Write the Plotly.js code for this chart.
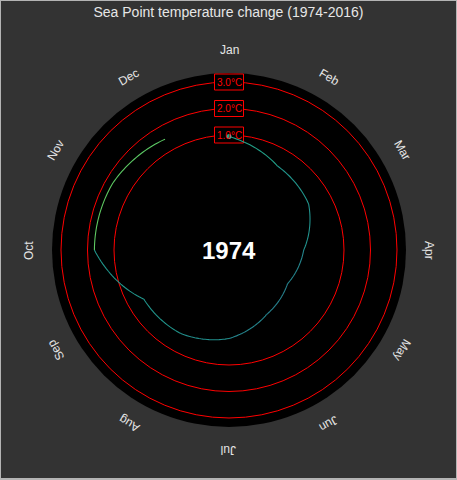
<!DOCTYPE html>
<html>
<head>
<meta charset="utf-8">
<script src="https://cdn.plot.ly/plotly-3.0.1.min.js"></script>
<style>
  html, body { margin: 0; padding: 0; background: #333333; }
  #frame { width: 457px; height: 480px; box-sizing: border-box; border: 1px solid #b4b4b4; border-bottom-width: 2px; background: #333333; }
  #chart { width: 455px; height: 477px; }
</style>
</head>
<body>
<div id="frame"><div id="chart"></div></div>
<script>
// ---- data ----
var year = '1974';
var months = ['Jan','Feb','Mar','Apr','May','Jun','Jul','Aug','Sep','Oct','Nov','Dec'];
var anomaly = [0.94, 0.32, 0.13, -0.52, -0.79, -0.52, 0.00, 0.30, 0.37, 1.74, 1.72, 1.49];
var ringValues = [1, 2, 3];
var ringLabels = ['1.0°C', '2.0°C', '3.0°C'];

// ---- styling / geometry ----
var RMIN = -3.34, RMAX = 3.34;
var W = 455, H = 477;
var M = {l: 51, r: 50, t: 72, b: 51};
var SIDE = W - M.l - M.r; // 354 px polar square
var FONT = 'Liberation Sans, Arial, sans-serif';
var viridis = ['#440154','#482475','#414487','#355f8d','#2a788e','#21918c','#22a884','#44bf70','#7ad151','#bddf26','#fde725'];
function hex2rgb(h){ return [parseInt(h.substr(1,2),16),parseInt(h.substr(3,2),16),parseInt(h.substr(5,2),16)]; }
function viridisAt(t){
  t = Math.max(0, Math.min(1, t));
  var p = t * 10, i = Math.min(9, Math.floor(p)), f = p - i;
  var a = hex2rgb(viridis[i]), b = hex2rgb(viridis[i+1]);
  return 'rgb(' + [0,1,2].map(function(k){ return Math.round(a[k] + (b[k]-a[k])*f); }).join(',') + ')';
}
var cv = [-0.8, 0.95, 1.75], ct = [0.43, 0.56, 0.75];
function colourFor(v){
  var t;
  if (v <= cv[1]) t = ct[0] + (v - cv[0]) / (cv[1] - cv[0]) * (ct[1] - ct[0]);
  else t = ct[1] + (v - cv[1]) / (cv[2] - cv[1]) * (ct[2] - ct[1]);
  return viridisAt(t);
}
// radial value -> pixel radius (same mapping as the radial axis)
function rPx(v){ return SIDE / 2 * (v - RMIN) / (RMAX - RMIN); }

// month index -> angle in degrees on the angular axis
var STEP = 360 / months.length;

// Each month-to-month segment is a straight line in (angle, value) space,
// rendered in polar coordinates as a spiral arc (as coord_polar does).
var traces = [];
var SUB = 24;
for (var i = 0; i < months.length - 1; i++) {
  var th = [], rr = [];
  for (var s = 0; s <= SUB; s++) {
    var f = s / SUB;
    th.push((i + f) * STEP);
    rr.push(anomaly[i] + (anomaly[i+1] - anomaly[i]) * f);
  }
  traces.push({
    type: 'scatterpolar', mode: 'lines', r: rr, theta: th,
    line: {color: colourFor(anomaly[i]), width: 1.1},
    hoverinfo: 'skip', showlegend: false
  });
}
traces.push({
  type: 'scatterpolar', mode: 'markers',
  r: [anomaly[0]], theta: [0],
  marker: {color: colourFor(anomaly[0]), size: 5},
  hoverinfo: 'skip', showlegend: false
});

// background disc, rings and ring-label boxes (beneath the data)
var shapes = [{
  type: 'circle', xref: 'paper', yref: 'paper', layer: 'below',
  x0: 0, x1: 1, y0: 0, y1: 1, fillcolor: '#000000', line: {width: 0}
}];
ringValues.forEach(function(v){
  var q = rPx(v) / SIDE;
  shapes.push({
    type: 'circle', xref: 'paper', yref: 'paper', layer: 'below',
    x0: 0.5 - q, x1: 0.5 + q, y0: 0.5 - q, y1: 0.5 + q,
    line: {color: '#ff0000', width: 1}
  });
});
var BOX_W = 29, BOX_H = 16;
ringValues.forEach(function(v){
  var yc = 0.5 + rPx(v) / SIDE;
  shapes.push({
    type: 'rect', xref: 'paper', yref: 'paper', layer: 'below',
    x0: 0.5 - BOX_W / 2 / SIDE, x1: 0.5 + BOX_W / 2 / SIDE,
    y0: yc - BOX_H / 2 / SIDE, y1: yc + BOX_H / 2 / SIDE,
    fillcolor: '#000000', line: {color: '#ff0000', width: 1}
  });
});

var annotations = [];
ringValues.forEach(function(v, k){
  annotations.push({
    xref: 'paper', yref: 'paper', x: 0.5, y: 0.5 + rPx(v) / SIDE,
    xanchor: 'center', yanchor: 'middle', showarrow: false,
    text: ringLabels[k],
    font: {family: FONT, size: 10, color: '#ff0000'}
  });
});
var LABEL_R = 200;
months.forEach(function(m, k){
  var a = k * STEP * Math.PI / 180;
  var ang = ((k * STEP + 180) % 360) - 180;
  annotations.push({
    xref: 'paper', yref: 'paper',
    x: 0.5 + LABEL_R * Math.sin(a) / SIDE,
    y: 0.5 + LABEL_R * Math.cos(a) / SIDE,
    xanchor: 'center', yanchor: 'middle', showarrow: false,
    text: m, textangle: ang,
    font: {family: FONT, size: 12, color: '#e6e6e6'}
  });
});
annotations.push({
  xref: 'paper', yref: 'paper', x: 0.5, y: 0.5, xanchor: 'center', yanchor: 'middle',
  showarrow: false, text: '<b>' + year + '</b>',
  font: {family: FONT, size: 24, color: '#ffffff'}
});

var layout = {
  width: W, height: H,
  margin: M,
  paper_bgcolor: '#333333',
  plot_bgcolor: 'rgba(0,0,0,0)',
  showlegend: false,
  title: {
    text: 'Sea Point temperature change (1974-2016)',
    x: 0.5, xanchor: 'center', xref: 'container',
    y: 1 - 11.5 / H, yanchor: 'middle', yref: 'container',
    font: {family: FONT, size: 14, color: '#e6e6e6'}
  },
  polar: {
    domain: {x: [0, 1], y: [0, 1]},
    bgcolor: 'rgba(0,0,0,0)',
    radialaxis: {
      range: [RMIN, RMAX], showgrid: false,
      showticklabels: false, ticks: '', showline: false
    },
    angularaxis: {
      type: 'linear', thetaunit: 'degrees',
      direction: 'clockwise', rotation: 90,
      showgrid: false, showline: false, showticklabels: false, ticks: ''
    }
  },
  shapes: shapes,
  annotations: annotations
};

Plotly.newPlot('chart', traces, layout, {displayModeBar: false, staticPlot: true});
</script>
</body>
</html>
